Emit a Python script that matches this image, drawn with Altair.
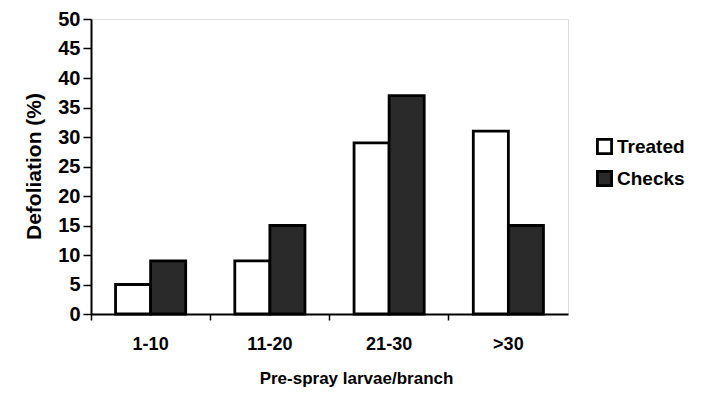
import altair as alt
import pandas as pd

categories = ["1-10", "11-20", "21-30", ">30"]
series = ["Treated", "Checks"]
treated = [5, 9, 29, 31]
checks = [9, 15, 37, 15]

rows = []
for c, t, k in zip(categories, treated, checks):
    rows.append({"group": c, "series": "Treated", "value": t})
    rows.append({"group": c, "series": "Checks", "value": k})
df = pd.DataFrame(rows)

FONT = "Liberation Sans"

bars = alt.Chart(df).mark_bar(stroke="black", strokeWidth=2.8).encode(
    x=alt.X("group:N", sort=categories,
            scale=alt.Scale(paddingInner=0, paddingOuter=0),
            axis=alt.Axis(title="Pre-spray larvae/branch", labelAngle=0,
                          bandPosition=0, tickSize=6, tickColor="black",
                          domainColor="black", domainWidth=2, tickWidth=1.5,
                          labelFont=FONT, labelFontSize=18, labelFontWeight="bold",
                          labelColor="black", labelPadding=15,
                          titleFont=FONT, titleFontSize=17, titleFontWeight="bold",
                          titleColor="black", titleX=265, titleY=64,
                          titleBaseline="middle")),
    xOffset=alt.XOffset("series:N", sort=series,
                        scale=alt.Scale(paddingInner=0, paddingOuter=0.7)),
    y=alt.Y("value:Q",
            scale=alt.Scale(domain=[0, 50]),
            axis=alt.Axis(title="Defoliation (%)", values=list(range(0, 51, 5)),
                          grid=False, tickSize=8, tickColor="black", tickWidth=1.5,
                          domainColor="black", domainWidth=2,
                          labelFont=FONT, labelFontSize=20, labelFontWeight="bold",
                          labelColor="black", labelPadding=3,
                          titleFont=FONT, titleFontSize=21, titleFontWeight="bold",
                          titleColor="black", titleX=-47, titleY=147)),
    fill=alt.Fill("series:N", sort=series,
                  scale=alt.Scale(domain=series, range=["white", "#2a2a2a"]),
                  legend=alt.Legend(title=None, orient="none", legendX=504, legendY=118,
                                    symbolType="square", symbolSize=200,
                                    symbolStrokeColor="black", symbolStrokeWidth=2.8,
                                    labelFont=FONT, labelFontSize=19, labelFontWeight="bold",
                                    labelColor="black", rowPadding=5, labelOffset=3)),
)

chart = bars.properties(
    width=477, height=295,
    autosize=alt.AutoSizeParams(type="none"),
    padding={"left": 91, "top": 19, "right": 135, "bottom": 84},
).configure_view(stroke=None).configure(background="white")

chart.save("out.html", embed_options={"renderer": "svg", "actions": False})
